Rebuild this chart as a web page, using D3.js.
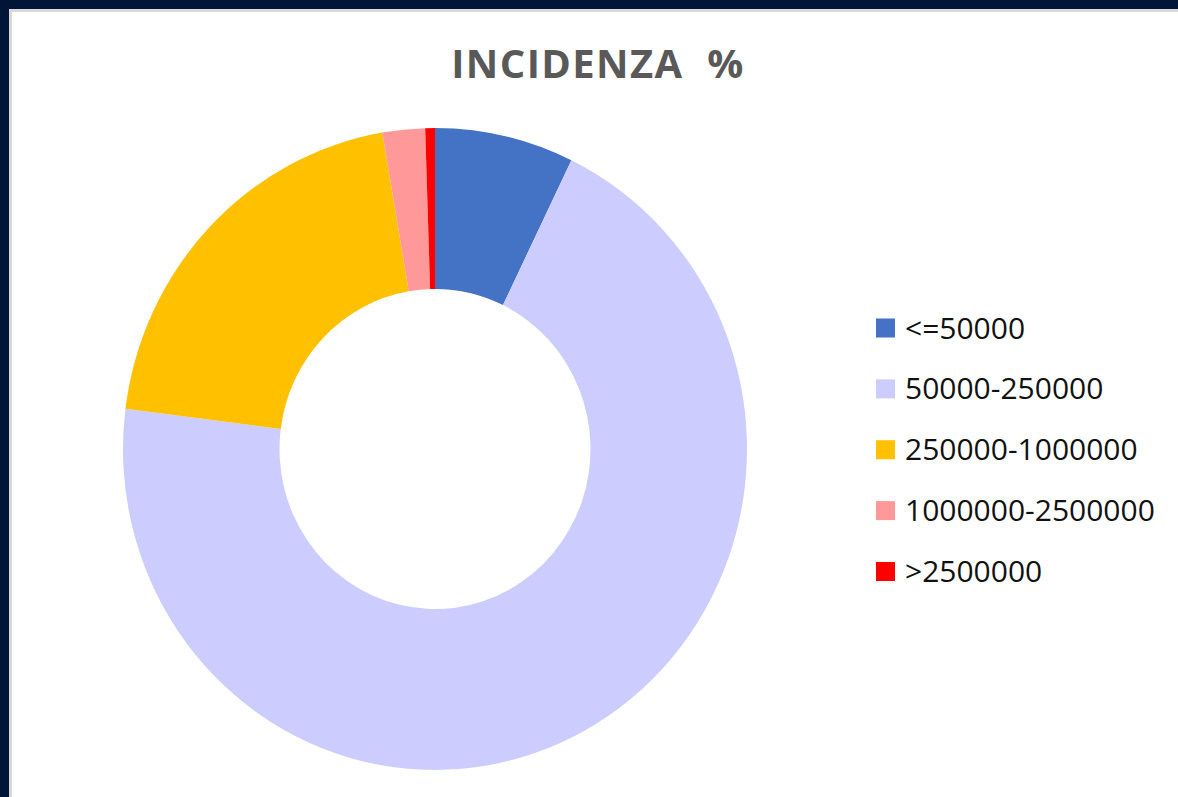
<html>
<head>
    <title>Incidenza %</title>
    <script type="text/javascript" src="https://d3js.org/d3.v7.min.js"></script>
    <style>
        body {
            margin: 0;
            background: #001537;
            overflow: hidden;
        }

        .title {
            font-family: "Open Sans", sans-serif;
            font-weight: bold;
            fill: #595959;
        }

        .legend text {
            font-family: "Open Sans", sans-serif;
            fill: #111;
        }
    </style>
</head>
<body>
<div id="chart"></div>

<script>
    // values (percentages)
    var categories = ["<=50000", "50000-250000", "250000-1000000", "1000000-2500000", ">2500000"];
    var shares = [7.2, 69.8, 20.3, 2.2, 0.5];
    var colors = ["#4472C4", "#CCCCFF", "#FFC000", "#FF9999", "#FF0000"];

    var width = 1178,
        height = 797;

    var svg = d3.select("#chart")
        .append("svg")
        .attr("width", width)
        .attr("height", height);

    // panel: thin grey edge then white
    svg.append("rect")
        .attr("x", 9).attr("y", 9)
        .attr("width", width).attr("height", height)
        .attr("fill", "#d9d9d9");
    svg.append("rect")
        .attr("x", 12).attr("y", 12)
        .attr("width", width).attr("height", height)
        .attr("fill", "white");

    svg.append("text")
        .attr("class", "title")
        .attr("x", 598)
        .attr("y", 78)
        .attr("text-anchor", "middle")
        .style("font-size", "40px")
        .style("letter-spacing", "1.4px")
        .style("word-spacing", "12px")
        .text("INCIDENZA %");

    var data = categories.map(function (c, i) {
        return {name: c, value: shares[i], color: colors[i]};
    });

    var pie = d3.pie()
        .sort(null)
        .value(function (d) { return d.value; });

    var arc = d3.arc()
        .innerRadius(160)
        .outerRadius(321);

    // the source image is slightly squeezed horizontally
    var g = svg.append("g")
        .attr("transform", "translate(435, 449) scale(0.972, 1)");

    g.selectAll("path.slice")
        .data(pie(data))
        .join("path")
        .attr("class", "slice")
        .attr("d", arc)
        .attr("fill", function (d) { return d.data.color; });

    // legend
    var legendY = d3.scalePoint()
        .domain(categories)
        .range([328, 571.5]);

    var legend = svg.append("g")
        .attr("class", "legend")
        .selectAll("g")
        .data(data)
        .join("g")
        .attr("transform", function (d) {
            return "translate(876," + legendY(d.name) + ")";
        });

    legend.append("rect")
        .attr("x", 0)
        .attr("y", -9.5)
        .attr("width", 19)
        .attr("height", 19)
        .attr("fill", function (d) { return d.color; });

    legend.append("text")
        .attr("x", 29)
        .attr("y", 10.5)
        .style("font-size", "30px")
        .text(function (d) { return d.name; });
</script>
</body>
</html>
